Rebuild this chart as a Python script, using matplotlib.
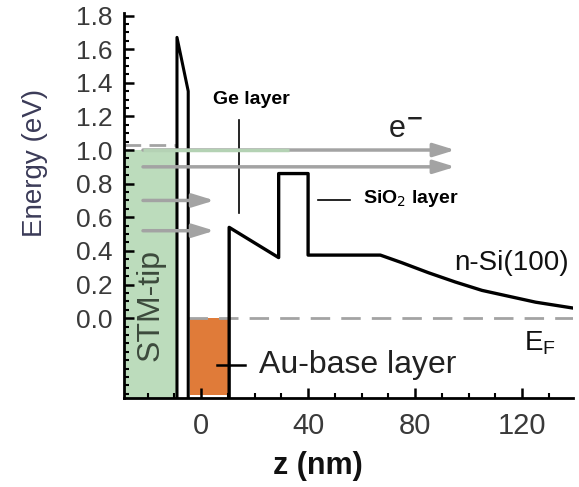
import numpy as np
import matplotlib
matplotlib.use("Agg")
import matplotlib.pyplot as plt
from matplotlib.ticker import MultipleLocator

plt.rcParams['font.family'] = ['Liberation Sans', 'DejaVu Sans']

# --- datos ---
# punta STM (barrera de vacio)
z_tip = [-9.0, -9.0, -4.8, -4.8]
E_tip = [-0.47, 1.67, 1.35, -0.47]
tip_fermi = 1.03          # nivel lleno de la punta (eV)
tip_fill_top = 1.0

# perfil de bandas: capa Ge -> SiO2 -> n-Si(100)
z_band = [10.5, 10.5, 29, 29, 40, 40, 67, 75, 85, 95, 105, 115, 125, 139]
E_band = [-0.47, 0.54, 0.36, 0.86, 0.86, 0.375, 0.375, 0.33, 0.27, 0.215,
          0.165, 0.13, 0.095, 0.06]

# capa base de Au
au_z = (-4.3, 10.5)
au_E = (-0.46, 0.0)
E_F = 0.0

# electrones (flechas)
arrow_E = [1.0, 0.9, 0.7, 0.52]
arrow_start = -21.7
arrow_end = [95, 95, 5, 5]

fig = plt.figure(figsize=(5.79, 4.87), dpi=100)
ax = fig.add_axes([124/579, 1-398/487, (573-124)/579, (398-13)/487])
ax.set_xlim(-28.8, 139)
ax.set_ylim(-0.475, 1.815)

gray = '#a3a3a3'
green = '#bcdcbc'

# zona verde de la punta
ax.fill_between([-28.8, -9.5], -0.475, tip_fill_top, color=green, lw=0, zorder=1)
ax.plot([-28.8, -9], [tip_fermi, tip_fermi], ls=(0, (6, 3)), color=gray, lw=2, zorder=2)

# capa de Au
ax.fill_between(au_z, au_E[0], au_E[1], color='#e07b39', lw=0, zorder=1)

# nivel de Fermi
ax.plot([-4.8, 139], [E_F, E_F], ls=(0, (7, 4)), color=gray, lw=2, zorder=2)

# barrera de la punta y bandas
ax.plot(z_tip, E_tip, color='black', lw=2.2, zorder=3)
ax.plot(z_band, E_band, color='black', lw=2.4, zorder=3)

# flechas de electrones
for E, zend in zip(arrow_E, arrow_end):
    ax.annotate('', xy=(zend, E), xytext=(arrow_start, E),
                arrowprops=dict(arrowstyle='-|>,head_length=0.65,head_width=0.2',
                                color=gray, lw=2.5, mutation_scale=20,
                                shrinkA=0, shrinkB=0), zorder=4)
ax.plot([arrow_start, 33], [arrow_E[0], arrow_E[0]], color='#b4d2b4', lw=2.5,
        solid_capstyle='butt', zorder=4)

# lineas indicadoras
ax.plot([14, 14], [0.625, 1.18], color='black', lw=1.2, zorder=3)
ax.plot([43.7, 55.7], [0.70, 0.70], color='black', lw=1.2, zorder=3)
ax.plot([6, 16.5], [-0.28, -0.28], color='black', lw=1.8, zorder=5)

# textos
ax.text(18.9, 1.30, 'Ge layer', fontsize=14, fontweight='bold', ha='center', va='center')
ax.text(60.5, 0.714, r'SiO$_2$ layer', fontsize=14, fontweight='bold', ha='left', va='center')
ax.text(76.5, 1.12, r'e$^{\mathbf{-}}$', fontsize=22, ha='center', va='center', color='#222222')
ax.text(116.0, 0.33, 'n-Si(100)', fontsize=20, ha='center', va='center', color='#111111')
ax.text(126.5, -0.15, r'E$_\mathregular{F}$', fontsize=20, ha='center', va='center', color='#111111')
ax.text(21.5, -0.28, 'Au-base layer', fontsize=23, ha='left', va='center', color='#222222')
ax.text(-19, 0.08, 'STM-tip', fontsize=23, rotation=90, ha='center', va='center', color='#3c4a3c')

# ejes
for s in ['top', 'right']:
    ax.spines[s].set_visible(False)
for s in ['left', 'bottom']:
    ax.spines[s].set_linewidth(2)
ax.set_xticks([0, 40, 80, 120])
ax.xaxis.set_minor_locator(MultipleLocator(10))
ax.set_yticks(np.round(np.arange(0, 1.81, 0.2), 1))
ax.yaxis.set_minor_locator(MultipleLocator(0.05))
ax.yaxis.set_major_formatter(plt.FormatStrFormatter('%.1f'))
ax.tick_params(which='major', direction='in', length=7, width=1.8, colors='black')
ax.tick_params(which='minor', direction='in', length=3.5, width=1.5, colors='black')
ax.tick_params(axis='y', labelsize=19, labelcolor='#3a3a3a', pad=8)
ax.tick_params(axis='x', labelsize=21, labelcolor='#3a3a3a', pad=10)

fig.text(35/579, 1-163/487, 'Energy (eV)', rotation=90, fontsize=20, ha='center',
         va='center', color='#3b3b58')
fig.text(318/579, 1-466/487, 'z (nm)', fontsize=22, fontweight='bold', ha='center',
         va='center', color='#111111')

fig.savefig('out.png', dpi=100)
